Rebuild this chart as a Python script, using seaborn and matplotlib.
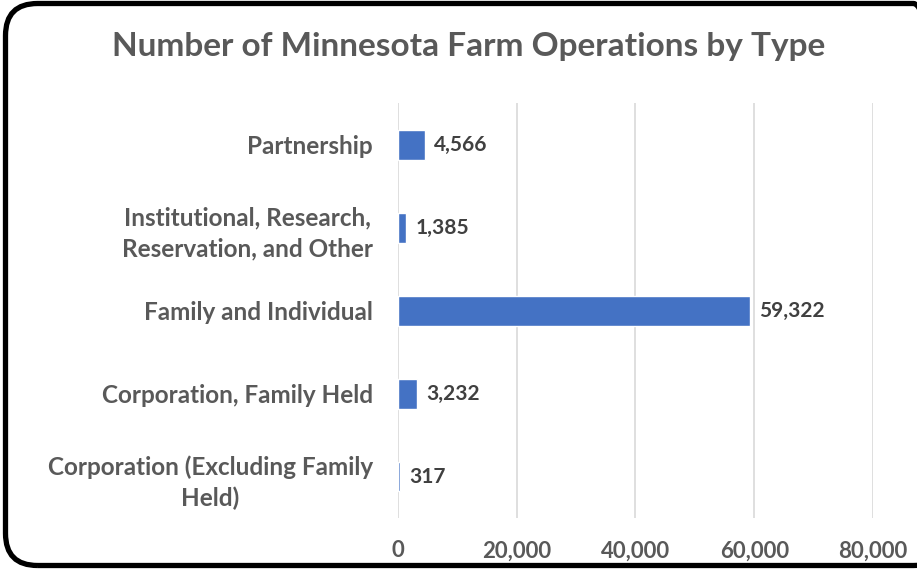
import matplotlib
matplotlib.use("Agg")
import matplotlib.pyplot as plt
import seaborn as sns
import pandas as pd
from matplotlib.patches import FancyBboxPatch
from matplotlib.ticker import FuncFormatter

# data
farm_types = ["Partnership",
              "Institutional, Research,\nReservation, and Other",
              "Family and Individual",
              "Corporation, Family Held",
              "Corporation (Excluding Family\nHeld)"]
operations = [4566, 1385, 59322, 3232, 317]
x_ticks = [0, 20000, 40000, 60000, 80000]

sns.set_style("white")
plt.rcParams['font.family'] = ['Lato', 'DejaVu Sans']

df = pd.DataFrame({'Type': farm_types, 'Operations': operations})

fig = plt.figure(figsize=(9.17, 5.69), dpi=100)
ax = fig.add_axes([0.434, 0.0896, 0.518, 0.729])

sns.barplot(x='Operations', y='Type', data=df, orient='h', color='#4472C4',
            saturation=1, width=0.36, ax=ax)

# value labels
for i, v in enumerate(operations):
    ax.text(v + 1500, i, f"{v:,}", va='center', ha='left', fontsize=15,
            fontweight='bold', color='#404040')

ax.set_xlim(0, 80000)
ax.set_xticks(x_ticks)
ax.xaxis.set_major_formatter(FuncFormatter(lambda v, p: f"{int(v):,}"))
ax.grid(axis='x', color='#D9D9D9', linewidth=1.2)
ax.set_axisbelow(True)
for s in ax.spines.values():
    s.set_visible(False)
ax.tick_params(axis='both', length=0)
ax.tick_params(axis='x', pad=16)
ax.tick_params(axis='y', pad=18)
ax.set_xlabel('')
ax.set_ylabel('')
for lbl in ax.get_xticklabels():
    lbl.set_fontsize(16)
    lbl.set_fontweight('bold')
    lbl.set_color('#595959')
for lbl in ax.get_yticklabels():
    lbl.set_fontsize(17.5)
    lbl.set_fontweight('bold')
    lbl.set_color('#595959')
    lbl.set_multialignment('center')
    lbl.set_linespacing(1.4)

fig.text(0.511, 0.918, "Number of Minnesota Farm Operations by Type",
         ha='center', va='center', fontsize=24, fontweight='bold', color='#595959')

# rounded frame around the chart, right side runs off the image
frame = FancyBboxPatch((5.5 / 917, 3.5 / 569), 940 / 917, 562 / 569,
                       boxstyle="round,pad=0,rounding_size=0.035",
                       transform=fig.transFigure, fill=False,
                       edgecolor='black', linewidth=3.8, mutation_aspect=917 / 569,
                       clip_on=False)
fig.patches.append(frame)

fig.savefig("out.png", dpi=100)
